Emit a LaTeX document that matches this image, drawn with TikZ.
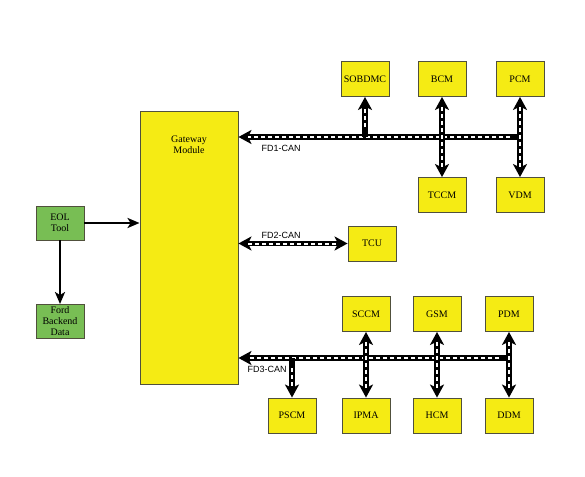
\documentclass[tikz,border=0pt]{standalone}
\usepackage{fontspec}
\setmainfont{Liberation Serif}
\setsansfont{Liberation Sans}
\usetikzlibrary{arrows.meta,positioning}
\definecolor{ecuyellow}{RGB}{245,235,20}
\definecolor{toolgreen}{RGB}{120,190,84}
\definecolor{boxline}{RGB}{80,80,60}
\tikzset{
    ecu/.style={draw=boxline,fill=ecuyellow,line width=0.9pt,minimum width=48pt,minimum height=35pt,inner sep=0pt,align=center,font=\fontsize{10}{11}\selectfont},
    tool/.style={draw=boxline,fill=toolgreen,line width=0.9pt,minimum width=48pt,minimum height=34pt,inner sep=0pt,align=center,font=\fontsize{10}{11}\selectfont},
    canlabel/.style={font=\sffamily\fontsize{9}{10}\selectfont,inner sep=0pt},
    bus/.style={line width=5.5pt,>={Stealth[length=13pt,width=14pt,inset=3.5pt]},postaction={draw=white,line width=2pt,dash pattern=on 4pt off 3pt,shorten <=10pt,shorten >=10pt,-}},
    arrow/.style={-{Stealth[length=12pt,width=10pt,inset=3pt]},line width=2.4pt}
}
\begin{document}
\begin{tikzpicture}[x=1pt,y=-1pt]
    \useasboundingbox (0,0) rectangle (585,476);
    % gateway and tools
    \node[ecu,minimum width=98pt,minimum height=273pt] (gw) at (189,247.5) {};
    \node[inner sep=0pt,align=center,font=\fontsize{10}{11}\selectfont,below=25pt of gw.north] (gwlabel) {Gateway\\Module};
    \node[tool] (eol) at (60,223) {EOL\\Tool};
    \node[tool] (ford) at (60,321.5) {Ford\\Backend\\Data};
    \draw[arrow] (eol.east) -- (eol.east -| gw.west);
    \draw[arrow] (eol) -- (ford);
    % FD1-CAN
    \node[ecu] (sobdmc) at (365,79) {SOBDMC};
    \node[ecu] (bcm) at (442,79) {BCM};
    \node[ecu] (pcm) at (520,79) {PCM};
    \node[ecu] (tccm) at (442,195) {TCCM};
    \node[ecu] (vdm) at (520,195) {VDM};
    \coordinate (b1) at (520,137);
    \draw[bus,->] (b1) -- (b1 -| gw.east);
    \draw[bus,->] (sobdmc.south |- b1) -- (sobdmc.south);
    \draw[bus,<->] (bcm) -- (tccm);
    \draw[bus,<->] (pcm) -- (vdm);
    \node[canlabel] (fd1) at (281,148) {FD1-CAN};
    % FD2-CAN
    \node[ecu] (tcu) at (372,243.5) {TCU};
    \draw[bus,<->] (tcu.west -| gw.east) -- (tcu.west);
    \node[canlabel] (fd2) at (281,235) {FD2-CAN};
    % FD3-CAN
    \node[ecu] (sccm) at (366,314) {SCCM};
    \node[ecu] (gsm) at (437,314) {GSM};
    \node[ecu] (pdm) at (509,314) {PDM};
    \node[ecu] (pscm) at (292,415.5) {PSCM};
    \node[ecu] (ipma) at (366,415.5) {IPMA};
    \node[ecu] (hcm) at (437,415.5) {HCM};
    \node[ecu] (ddm) at (509,415.5) {DDM};
    \coordinate (b3) at (509,358);
    \draw[bus,->] (b3) -- (b3 -| gw.east);
    \draw[bus,->] (pscm.north |- b3) -- (pscm.north);
    \draw[bus,<->] (sccm) -- (ipma);
    \draw[bus,<->] (gsm) -- (hcm);
    \draw[bus,<->] (pdm) -- (ddm);
    \node[canlabel] (fd3) at (267,369) {FD3-CAN};
\end{tikzpicture}
\end{document}
